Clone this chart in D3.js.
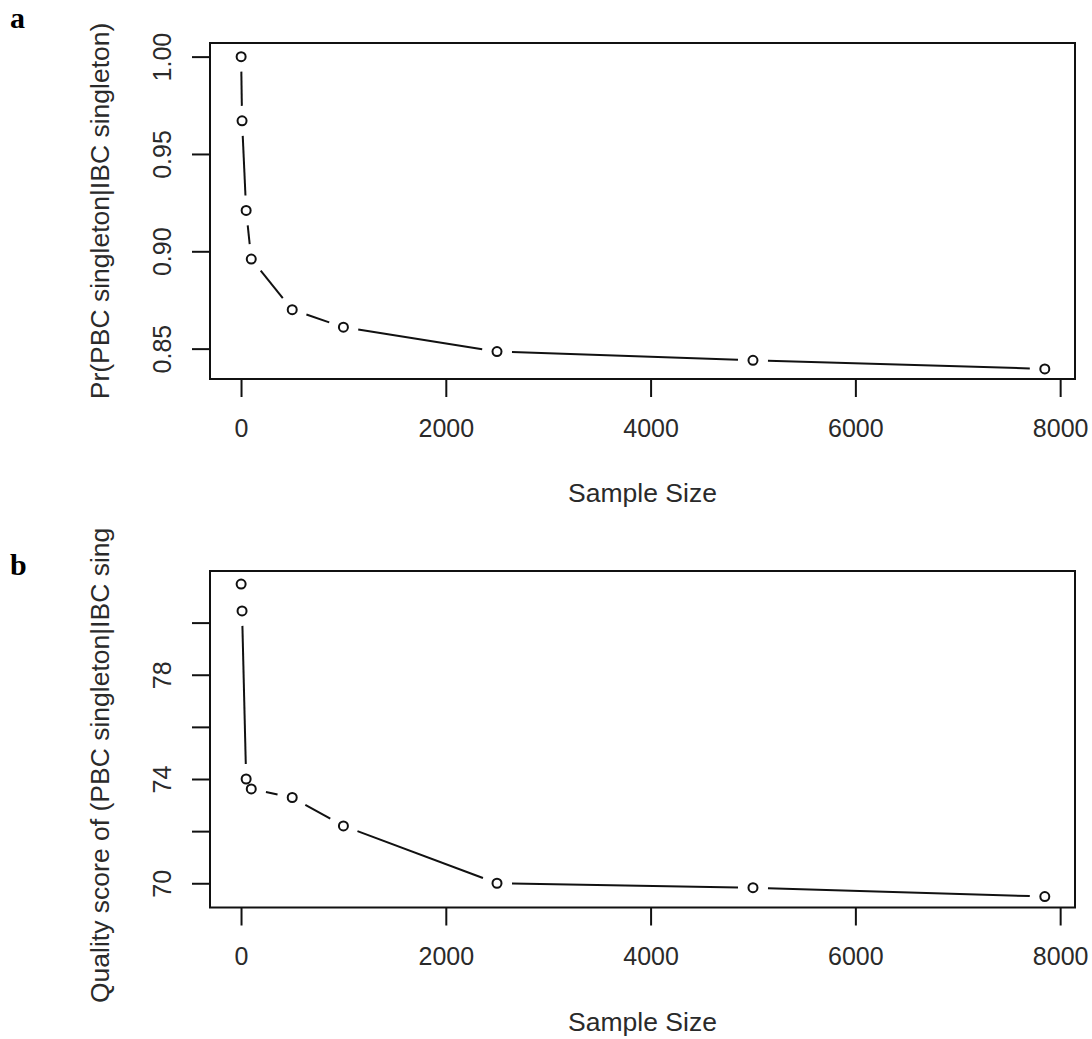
<!DOCTYPE html>
<html>
<head>
<meta charset="utf-8">
<script src="https://cdn.jsdelivr.net/npm/d3@7/dist/d3.min.js"></script>
<style>
  html, body { margin: 0; padding: 0; background: #fff; }
  svg { display: block; }
  text { font-family: "Liberation Sans", Arial, sans-serif; fill: #2a2a2a; }
</style>
</head>
<body>
<svg id="chart" width="1092" height="1039"></svg>
<script>
// ---- data ----
const sampleSize = [1, 10, 50, 100, 500, 1000, 2500, 5000, 7850];
const probSingleton = [1.000, 0.967, 0.921, 0.896, 0.870, 0.861, 0.8485, 0.844, 0.8396];
const qualityScore = [81.48, 80.45, 74.0, 73.62, 73.29, 72.2, 70.0, 69.83, 69.49];
const xTicks = [0, 2000, 4000, 6000, 8000];
const yTicksA = [0.85, 0.90, 0.95, 1.00];
const yTicksB = [70, 72, 74, 76, 78, 80];
const yLabelsB = [70, 74, 78];

const svg = d3.select("#chart");

function panel(cfg) {
  const { top, bottom, yDomain, values, yTicks, yLabels, yFmt, yTitle, yTitleAnchor, yTitleY, tag, tagY } = cfg;
  const left = 210, right = 1075;
  const x = d3.scaleLinear().domain([-303, 8145]).range([left, right]);
  const y = d3.scaleLinear().domain(yDomain).range([bottom, top]);
  const g = svg.append("g");

  // x axis
  const xAxis = d3.axisBottom(x).tickValues(xTicks).tickSize(18).tickPadding(22).tickFormat(d3.format("d"));
  const xg = g.append("g").attr("transform", `translate(0,${bottom})`).call(xAxis);
  xg.select(".domain").remove();
  xg.selectAll(".tick line").attr("stroke", "#111").attr("stroke-width", 2);
  xg.selectAll(".tick text").attr("font-size", 25).attr("fill", "#2a2a2a")
    .attr("font-family", "Liberation Sans, Arial, sans-serif");

  // y axis
  const yAxis = d3.axisLeft(y).tickValues(yTicks).tickSize(18).tickFormat(d => yLabels.includes(d) ? yFmt(d) : "");
  const yg = g.append("g").attr("transform", `translate(${left},0)`).call(yAxis);
  yg.select(".domain").remove();
  yg.selectAll(".tick line").attr("stroke", "#111").attr("stroke-width", 2);
  yg.selectAll(".tick text")
    .attr("font-size", 25).attr("fill", "#2a2a2a")
    .attr("font-family", "Liberation Sans, Arial, sans-serif")
    .attr("text-anchor", "middle").attr("x", null).attr("dy", null)
    .attr("transform", "translate(-39,0) rotate(-90)");

  // box
  g.append("rect").attr("x", left).attr("y", top).attr("width", right - left).attr("height", bottom - top)
    .attr("fill", "none").attr("stroke", "#111").attr("stroke-width", 2);

  // line segments with gaps (type = "b")
  const pts = sampleSize.map((s, i) => [x(s), y(values[i])]);
  const gap = 15;
  for (let i = 0; i < pts.length - 1; i++) {
    const [x1, y1] = pts[i], [x2, y2] = pts[i + 1];
    const d = Math.hypot(x2 - x1, y2 - y1);
    if (d > 2 * gap) {
      const ux = (x2 - x1) / d, uy = (y2 - y1) / d;
      g.append("line")
        .attr("x1", x1 + ux * gap).attr("y1", y1 + uy * gap)
        .attr("x2", x2 - ux * gap).attr("y2", y2 - uy * gap)
        .attr("stroke", "#111").attr("stroke-width", 2);
    }
  }
  g.selectAll("circle.pt").data(sampleSize).enter().append("circle")
    .attr("class", "pt")
    .attr("cx", d => x(d)).attr("cy", (d, i) => y(values[i]))
    .attr("r", 4.5).attr("fill", "none").attr("stroke", "#111").attr("stroke-width", 2);

  // x title
  g.append("text").attr("x", (left + right) / 2).attr("y", bottom + 123)
    .attr("text-anchor", "middle").attr("font-size", 26.5).text("Sample Size");

  // y title
  g.append("text").attr("transform", `translate(109,${yTitleY}) rotate(-90)`)
    .attr("text-anchor", yTitleAnchor).attr("font-size", 26.5).text(yTitle);

  // panel tag
  svg.append("text").attr("x", 10).attr("y", tagY)
    .style("font-family", "'Liberation Serif', 'Times New Roman', serif")
    .attr("font-weight", "bold").attr("font-size", 30).style("fill", "#000").text(tag);
}

panel({
  top: 43, bottom: 379, yDomain: [0.8344, 1.007], values: probSingleton,
  yTicks: yTicksA, yLabels: yTicksA, yFmt: d3.format(".2f"),
  yTitle: "Pr(PBC singleton|IBC singleton)", yTitleAnchor: "middle", yTitleY: 211,
  tag: "a", tagY: 28
});

panel({
  top: 571, bottom: 907.5, yDomain: [69.07, 81.98], values: qualityScore,
  yTicks: yTicksB, yLabels: yLabelsB, yFmt: d3.format("d"),
  yTitle: "Quality score of (PBC singleton|IBC sing", yTitleAnchor: "start", yTitleY: 1003,
  tag: "b", tagY: 575
});
</script>
</body>
</html>
